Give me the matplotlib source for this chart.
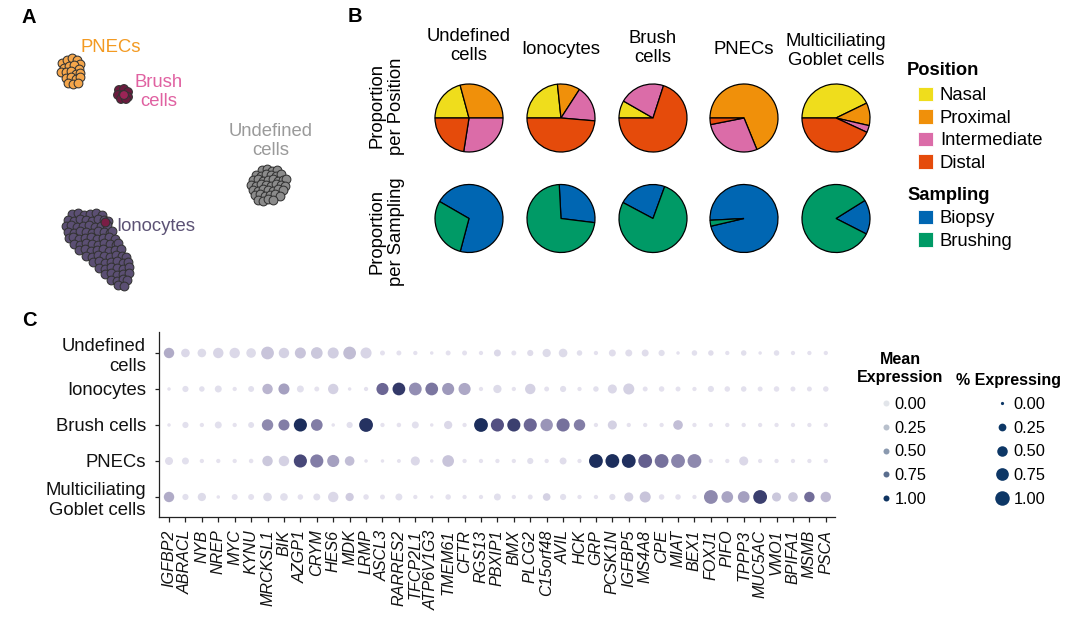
import numpy as np
import matplotlib
matplotlib.use("Agg")
import matplotlib.pyplot as plt
from matplotlib.colors import LinearSegmentedColormap
from matplotlib.patches import Patch
from matplotlib.lines import Line2D

plt.rcParams['font.family'] = ['Liberation Sans', 'DejaVu Sans']

# ---------------- data: panel A (UMAP embedding) ----------------
pnec_u1 = [6.2, 6.7, 7.2, 7.7, 8.0, 6.4, 6.9, 7.4, 7.9, 6.1, 6.6, 7.1, 7.6, 8.0, 6.6, 7.1, 7.6, 8.0, 6.8, 7.3, 7.8]
pnec_u2 = [24.7, 25.0, 25.2, 25.0, 24.6, 24.2, 24.4, 24.5, 24.1, 23.8, 23.8, 23.9, 23.6, 23.7, 23.2, 23.3, 23.1, 23.3, 22.7, 22.6, 22.7]

brush_u1 = [11.9, 12.4, 12.8, 11.8, 12.3, 12.8, 12.1, 12.6, 12.4]
brush_u2 = [22.0, 22.1, 21.8, 21.5, 21.5, 21.3, 21.1, 21.1, 21.5]

undef_u1 = [26.2, 26.7, 27.2, 27.7,
            25.6, 26.1, 26.6, 27.1, 27.6, 28.1,
            25.3, 25.8, 26.3, 26.8, 27.3, 27.8, 28.3, 28.6,
            25.1, 25.6, 26.1, 26.6, 27.1, 27.6, 28.1, 28.5,
            25.3, 25.8, 26.3, 26.8, 27.3, 27.8, 28.3,
            25.5, 26.0, 26.5, 27.0, 27.5, 28.0,
            25.8, 26.3, 26.8, 27.3]
undef_u2 = [14.0, 14.1, 13.9, 14.0,
            13.5, 13.4, 13.6, 13.5, 13.4, 13.6,
            13.0, 13.1, 12.9, 13.0, 13.1, 12.9, 13.0, 13.1,
            12.5, 12.4, 12.6, 12.5, 12.4, 12.6, 12.5, 12.4,
            12.0, 11.9, 12.1, 12.0, 11.9, 12.1, 12.0,
            11.5, 11.6, 11.4, 11.5, 11.6, 11.4,
            11.0, 10.9, 11.1, 11.0]

iono_u1 = [7.2, 7.8, 8.4, 9.0, 9.6, 10.2,
           6.8, 7.4, 8.0, 8.6, 9.2, 9.8, 10.4, 10.8,
           6.6, 7.1, 7.7, 8.3, 8.9, 9.5, 10.1, 10.7,
           6.8, 7.4, 8.0, 8.6, 9.2, 9.8, 10.4, 11.0, 11.2,
           6.9, 7.3, 7.9, 8.5, 9.1, 9.7, 10.3, 10.9, 11.5,
           7.4, 8.0, 8.6, 9.2, 9.8, 10.4, 11.0, 11.6, 11.8,
           7.9, 8.5, 9.1, 9.7, 10.3, 10.9, 11.5, 12.1,
           8.6, 9.2, 9.8, 10.4, 11.0, 11.6, 12.2, 12.6,
           9.3, 9.9, 10.5, 11.1, 11.7, 12.3, 12.8,
           9.9, 10.5, 11.1, 11.7, 12.3, 12.9,
           10.5, 11.1, 11.7, 12.3, 12.9,
           11.1, 11.7, 12.3, 12.7,
           11.8, 12.4]
iono_u2 = [9.6, 9.7, 9.5, 9.6, 9.7, 9.5,
           9.0, 8.9, 9.1, 9.0, 8.9, 9.1, 9.0, 8.9,
           8.4, 8.5, 8.3, 8.4, 8.5, 8.3, 8.4, 8.5,
           7.8, 7.7, 7.9, 7.8, 7.7, 7.9, 7.8, 7.7, 7.9,
           7.2, 7.3, 7.1, 7.2, 7.3, 7.1, 7.2, 7.3, 7.1,
           6.6, 6.5, 6.7, 6.6, 6.5, 6.7, 6.6, 6.5, 6.7,
           6.0, 6.1, 5.9, 6.0, 6.1, 5.9, 6.0, 6.1,
           5.4, 5.3, 5.5, 5.4, 5.3, 5.5, 5.4, 5.3,
           4.8, 4.9, 4.7, 4.8, 4.9, 4.7, 4.8,
           4.2, 4.1, 4.3, 4.2, 4.1, 4.3,
           3.6, 3.7, 3.5, 3.6, 3.7,
           3.0, 2.9, 3.1, 3.0,
           2.5, 2.4]
iono_odd_u1 = [10.5]
iono_odd_u2 = [8.8]

# ---------------- data: panel B (pies) ----------------
cell_types = ["Undefined\ncells", "Ionocytes", "Brush\ncells", "PNECs", "Multiciliating\nGoblet cells"]
positions = ["Nasal", "Proximal", "Intermediate", "Distal"]
nasal = [0.208, 0.233, 0.083, 0.000, 0.428]
proximal = [0.292, 0.108, 0.000, 0.689, 0.108]
intermediate = [0.275, 0.172, 0.217, 0.281, 0.033]
distal = [0.225, 0.486, 0.700, 0.031, 0.431]
samplings = ["Biopsy", "Brushing"]
biopsy = [0.708, 0.278, 0.228, 0.972, 0.164]
brushing = [0.292, 0.722, 0.772, 0.028, 0.836]

# ---------------- data: panel C (dot plot) ----------------
genes = ["IGFBP2", "ABRACL", "NYB", "NREP", "MYC", "KYNU", "MRCKSL1", "BIK", "AZGP1", "CRYM",
         "HES6", "MDK", "LRMP", "ASCL3", "RARRES2", "TFCP2L1", "ATP6V1G3", "TMEM61", "CFTR",
         "RGS13", "PBXIP1", "BMX", "PLCG2", "C15orf48", "AVIL", "HCK", "GRP", "PCSK1N", "IGFBP5",
         "MS4A8", "CPE", "MIAT", "BEX1", "FOXJ1", "PIFO", "TPPP3", "MUC5AC", "VMO1", "BPIFA1",
         "MSMB", "PSCA"]
dot_rows = ["Undefined\ncells", "Ionocytes", "Brush cells", "PNECs", "Multiciliating\nGoblet cells"]

expr_undefined = [0.35, 0.10, 0.08, 0.12, 0.10, 0.08, 0.22, 0.15, 0.22, 0.20, 0.17, 0.26, 0.12, 0.03, 0.03,
                  0.03, 0.03, 0.03, 0.03, 0.03, 0.10, 0.03, 0.07, 0.08, 0.08, 0.05, 0.03, 0.06, 0.06, 0.06,
                  0.05, 0.03, 0.04, 0.06, 0.03, 0.05, 0.03, 0.04, 0.03, 0.03, 0.03]
pct_undefined = [0.49, 0.32, 0.32, 0.49, 0.49, 0.41, 0.76, 0.49, 0.56, 0.63, 0.56,
                 0.76, 0.56, 0.07, 0.07, 0.04, 0.01, 0.07, 0.07, 0.04, 0.19, 0.07, 0.14, 0.29, 0.32, 0.10,
                 0.04, 0.19, 0.19, 0.19, 0.14, 0.01, 0.10, 0.10, 0.04, 0.10, 0.01, 0.10, 0.04, 0.04, 0.04]
expr_ionocytes = [0.02, 0.04, 0.04, 0.05, 0.02, 0.04, 0.30, 0.40, 0.04, 0.02, 0.15, 0.02, 0.03, 0.65, 0.88,
                  0.48, 0.58, 0.43, 0.36, 0.02, 0.08, 0.02, 0.15, 0.03, 0.05, 0.02, 0.04, 0.10, 0.15, 0.03,
                  0.03, 0.03, 0.02, 0.04, 0.03, 0.04, 0.03, 0.03, 0.03, 0.03, 0.03]
pct_ionocytes = [0.01, 0.14, 0.10, 0.19, 0.04, 0.125, 0.49, 0.56, 0.19, 0.07, 0.49,
                 0.01, 0.04, 0.68, 0.76, 0.76, 0.76, 0.68, 0.68, 0.04, 0.29, 0.04, 0.49, 0.07, 0.14, 0.04,
                 0.10, 0.36, 0.56, 0.07, 0.10, 0.07, 0.04, 0.14, 0.10, 0.10, 0.07, 0.10, 0.07, 0.07, 0.10]
expr_brush = [0.02, 0.04, 0.02, 0.04, 0.02, 0.04, 0.50, 0.55, 1.00, 0.55, 0.02, 0.04, 0.95, 0.02, 0.02,
              0.04, 0.02, 0.10, 0.02, 1.00, 0.75, 0.85, 0.65, 0.45, 0.60, 0.55, 0.02, 0.15, 0.02, 0.02,
              0.02, 0.25, 0.02, 0.02, 0.02, 0.02, 0.02, 0.02, 0.02, 0.02, 0.02]
pct_brush = [0.01, 0.14, 0.04, 0.19, 0.04, 0.125, 0.60, 0.56, 0.81, 0.63, 0.01,
             0.14, 0.90, 0.04, 0.05, 0.19, 0.01, 0.29, 0.04, 0.90, 0.81, 0.81, 0.81, 0.72, 0.81, 0.60,
             0.04, 0.36, 0.04, 0.04, 0.04, 0.41, 0.04, 0.04, 0.04, 0.04, 0.04, 0.04, 0.04, 0.04, 0.04]
expr_pnecs = [0.06, 0.04, 0.02, 0.02, 0.02, 0.02, 0.20, 0.15, 0.80, 0.55, 0.40, 0.25, 0.02, 0.02, 0.02,
              0.10, 0.02, 0.22, 0.02, 0.02, 0.02, 0.02, 0.05, 0.02, 0.06, 0.02, 1.00, 1.00, 0.97, 0.68,
              0.60, 0.52, 0.50, 0.02, 0.02, 0.10, 0.02, 0.02, 0.02, 0.02, 0.02]
pct_pnecs = [0.27, 0.19, 0.04, 0.04, 0.04, 0.05, 0.49, 0.49, 0.81, 0.81, 0.68,
             0.41, 0.01, 0.01, 0.025, 0.36, 0.01, 0.63, 0.04, 0.04, 0.04, 0.04, 0.14, 0.04, 0.19, 0.04,
             0.90, 0.90, 0.90, 0.90, 0.90, 0.90, 0.90, 0.04, 0.04, 0.36, 0.04, 0.04, 0.04, 0.04, 0.04]
expr_multi = [0.35, 0.04, 0.08, 0.02, 0.03, 0.03, 0.08, 0.05, 0.03, 0.05, 0.10, 0.18, 0.03, 0.02, 0.04,
              0.02, 0.02, 0.03, 0.02, 0.02, 0.05, 0.02, 0.02, 0.15, 0.04, 0.02, 0.02, 0.05, 0.15, 0.22,
              0.03, 0.03, 0.02, 0.50, 0.38, 0.40, 0.85, 0.20, 0.20, 0.62, 0.28]
pct_multi = [0.49, 0.14, 0.29, 0.01, 0.125, 0.125, 0.32, 0.24, 0.10, 0.19, 0.49,
             0.29, 0.10, 0.07, 0.19, 0.04, 0.01, 0.10, 0.04, 0.04, 0.19, 0.04, 0.07, 0.24, 0.14, 0.04,
             0.04, 0.14, 0.36, 0.56, 0.10, 0.10, 0.04, 0.90, 0.63, 0.63, 0.90, 0.36, 0.41, 0.49, 0.49]

legend_expr_values = [0.00, 0.25, 0.50, 0.75, 1.00]
legend_pct_values = [0.00, 0.25, 0.50, 0.75, 1.00]

# ---------------- styles ----------------
W, H = 1080, 621
fig = plt.figure(figsize=(W / 100, H / 100), dpi=100)


def fx(px):
    return px / W


def fy(py):
    return 1 - py / H


def box(l, t, r, b):
    return [fx(l), fy(b), (r - l) / W, (b - t) / H]


TXT = 13.3
pos_colors = ["#EFDD1C", "#F0900A", "#DB6CA8", "#E54B0B"]
samp_colors = ["#0066B2", "#009A66"]
pie_start_pos = [180, 180, 180, 180, 180]
pie_start_samp = [150, 93, 152, 183, 32]
pie_cx = [469, 561, 653, 744, 836]
pie_cy = [118, 218.5]
pie_r = 34

# panel letters
for letter, (lx, ly) in zip("ABC", [(22, 17.5), (348, 17), (22, 320)]):
    fig.text(fx(lx), fy(ly), letter, ha='left', va='center', fontsize=14.5, fontweight='bold')

# ---------------- panel A ----------------
axA = fig.add_axes(box(30, 30, 330, 300))
axA.set_xlim(3, 33)
axA.set_ylim(1, 28)
axA.axis('off')
ec = '#333333'
ms = 40
lw = 0.75
axA.scatter(pnec_u1, pnec_u2, s=ms, c='#F5A64B', edgecolors=ec, linewidths=lw)
axA.scatter(brush_u1, brush_u2, s=ms, c=['#6B1A3D'] * (len(brush_u1) - 1) + ['#9B2456'],
            edgecolors=ec, linewidths=lw)
axA.scatter(undef_u1, undef_u2, s=ms, c='#8B8B8B', edgecolors=ec, linewidths=lw)
axA.scatter(iono_u1, iono_u2, s=ms, c='#5B4F73', edgecolors=ec, linewidths=lw)
axA.scatter(iono_odd_u1, iono_odd_u2, s=ms, c='#7A1D45', edgecolors=ec, linewidths=lw)
axA.text(11.1, 26.25, "PNECs", color='#F39A22', fontsize=TXT, ha='center', va='center')
axA.text(15.9, 21.8, "Brush\ncells", color='#E061A1', fontsize=TXT, ha='center', va='center')
axA.text(27.1, 16.9, "Undefined\ncells", color='#9A9A9A', fontsize=TXT, ha='center', va='center')
axA.text(15.6, 8.3, "Ionocytes", color='#5C5275', fontsize=TXT, ha='center', va='center')

# ---------------- panel B ----------------
header_y = [46, 50, 48, 50, 51]
for i, ct in enumerate(cell_types):
    fig.text(fx(pie_cx[i]), fy(header_y[i]), ct, ha='center', va='center', fontsize=TXT)
    pos_vals = [nasal[i], proximal[i], intermediate[i], distal[i]]
    samp_vals = [biopsy[i], brushing[i]]
    for row, (vals, cols, start) in enumerate([(pos_vals, pos_colors, pie_start_pos[i]),
                                               (samp_vals, samp_colors, pie_start_samp[i])]):
        cx, cy = pie_cx[i], pie_cy[row]
        ax = fig.add_axes(box(cx - 37, cy - 37, cx + 37, cy + 37))
        keep = [k for k, v in enumerate(vals) if v > 0]
        ax.pie([vals[k] for k in keep], colors=[cols[k] for k in keep], startangle=start,
               counterclock=False, radius=1.0,
               wedgeprops=dict(edgecolor='black', linewidth=0.9))
        lim = 37 / pie_r
        ax.set_xlim(-lim, lim)
        ax.set_ylim(-lim, lim)
        ax.set_aspect('equal')
        ax.axis('off')

fig.text(fx(386.5), fy(106), "Proportion\nper Position", rotation=90, ha='center', va='center', fontsize=TXT)
fig.text(fx(386.5), fy(232), "Proportion\nper Sampling", rotation=90, ha='center', va='center', fontsize=TXT)

fig.text(fx(907), fy(75), "Position", ha='left', va='baseline', fontsize=13.2, fontweight='bold')
fig.text(fx(907), fy(200), "Sampling", ha='left', va='baseline', fontsize=13.2, fontweight='bold')
pos_handles = [Patch(facecolor=c, edgecolor='white', linewidth=0.6) for c in pos_colors]
samp_handles = [Patch(facecolor=c, edgecolor='white', linewidth=0.6) for c in samp_colors]
legkw = dict(loc='upper left', frameon=False, borderpad=0, borderaxespad=0, handlelength=0.8,
             handleheight=0.8, handletextpad=0.38, labelspacing=0.27, fontsize=TXT)
fig.legend(pos_handles, positions, bbox_to_anchor=(fx(918), fy(87)), **legkw)
fig.legend(samp_handles, samplings, bbox_to_anchor=(fx(918), fy(210)), **legkw)

# ---------------- panel C ----------------
dot_cmap = LinearSegmentedColormap.from_list(
    "dots", [(0.0, "#E7E5F0"), (0.15, "#D4D1E3"), (0.3, "#BAB5CF"), (0.45, "#9A95B8"),
             (0.6, "#76719C"), (0.75, "#555183"), (0.9, "#2F3666"), (1.0, "#1C2E5C")])


def dot_size(p):
    d = np.sqrt(3.2 ** 2 + np.asarray(p) * (14.5 ** 2 - 3.2 ** 2))
    return (d * 0.72) ** 2


axC = fig.add_axes(box(159, 332, 835, 517))
row_data = [(expr_undefined, pct_undefined), (expr_ionocytes, pct_ionocytes), (expr_brush, pct_brush),
            (expr_pnecs, pct_pnecs), (expr_multi, pct_multi)]
for label, (e, p) in zip(dot_rows, row_data):
    axC.scatter(genes, [label] * len(genes), s=dot_size(p), c=e, cmap=dot_cmap, vmin=0, vmax=1,
                linewidths=0, zorder=3)
axC.set_xlim(-0.61, 40.56)
axC.set_ylim(4.556, -0.583)
for sp in ['top', 'right']:
    axC.spines[sp].set_visible(False)
for sp in ['left', 'bottom']:
    axC.spines[sp].set_linewidth(0.9)
    axC.spines[sp].set_color('#222222')
axC.tick_params(axis='x', length=3.6, width=0.9, color='#222222', pad=5.5, labelsize=11.6)
axC.tick_params(axis='y', length=3.0, width=0.9, color='#222222', pad=6.5, labelsize=TXT)
for t in axC.get_xticklabels():
    t.set_rotation(90)
    t.set_fontstyle('italic')
    t.set_color('#111111')
for t in axC.get_yticklabels():
    t.set_color('#111111')

# legends for panel C
fig.text(fx(900), fy(368.5), "Mean\nExpression", ha='center', va='center', fontsize=11.5, fontweight='bold')
fig.text(fx(1008), fy(380), "% Expressing", ha='center', va='center', fontsize=11.5, fontweight='bold')
legend_expr_colors = ["#E2E5EA", "#B8C0CC", "#8A99AF", "#5A6E8E", "#0F3461"]
expr_handles = [Line2D([], [], ls='', marker='o', markersize=6 * 0.72, markerfacecolor=c,
                       markeredgewidth=0) for c in legend_expr_colors]
pct_handles = [Line2D([], [], ls='', marker='o', markersize=np.sqrt(dot_size(v)),
                      markerfacecolor='#0D3766', markeredgewidth=0) for v in legend_pct_values]
lab_expr = ["%.2f" % v for v in legend_expr_values]
lab_pct = ["%.2f" % v for v in legend_pct_values]
fig.legend(expr_handles, lab_expr, loc='upper left', bbox_to_anchor=(fx(879), fy(397)), frameon=False,
           borderpad=0, borderaxespad=0, handlelength=0.8, handletextpad=0.15, labelspacing=0.53,
           fontsize=11.8)
fig.legend(pct_handles, lab_pct, loc='upper left', bbox_to_anchor=(fx(992), fy(397)), frameon=False,
           borderpad=0, borderaxespad=0, handlelength=1.2, handletextpad=0.12, labelspacing=0.53,
           fontsize=11.8)

fig.savefig("out.png", dpi=100)
